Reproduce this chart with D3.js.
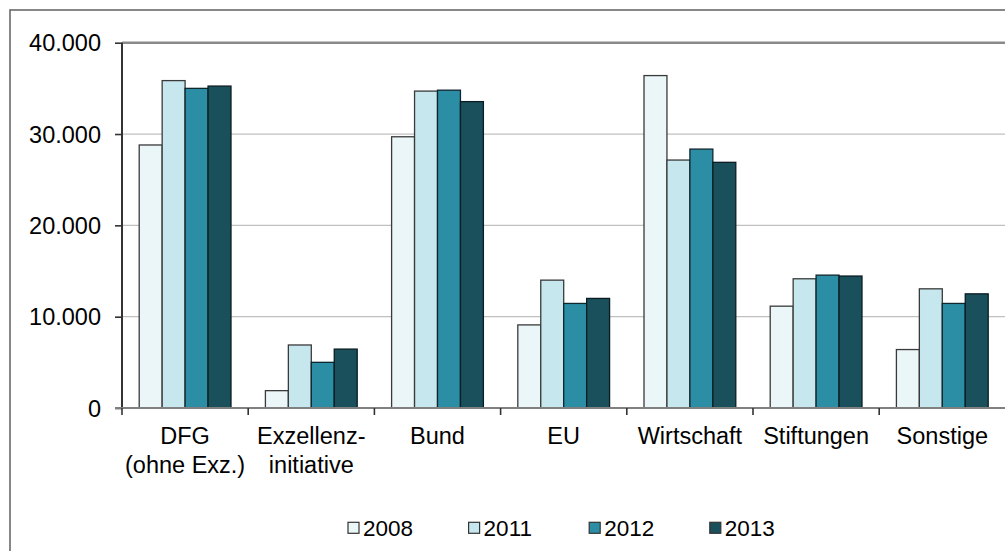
<!DOCTYPE html>
<html>
<head>
<meta charset="utf-8">
<script src="https://cdn.jsdelivr.net/npm/d3@7"></script>
<style>
  html, body { margin: 0; padding: 0; background: #fff; }
  svg { display: block; font-family: "Liberation Sans", Arial, sans-serif; }
</style>
</head>
<body>
<svg id="chart" width="1005" height="551"></svg>
<script>
// Drittmittel nach Geldgeber, Jahresvergleich
const categories = ["DFG\n(ohne Exz.)", "Exzellenz-\ninitiative", "Bund", "EU", "Wirtschaft", "Stiftungen", "Sonstige"];
const years = ["2008", "2011", "2012", "2013"];
const values2008 = [28800, 1900, 29700, 9100, 36400, 11150, 6400];
const values2011 = [35850, 6900, 34700, 14000, 27150, 14150, 13050];
const values2012 = [35000, 5000, 34800, 11450, 28350, 14550, 11450];
const values2013 = [35250, 6450, 33550, 12000, 26900, 14450, 12500];
const yTicks = [0, 10000, 20000, 30000, 40000];
const colors = ["#ebf6f8", "#c6e7ee", "#2b8ea5", "#1a4f5c"];
const strokes = ["#3a3a3a", "#3a3a3a", "#10262d", "#0b1d22"];

const series = [values2008, values2011, values2012, values2013];
const rows = categories.map((c, i) => ({ cat: c, vals: series.map(s => s[i]) }));

const svg = d3.select("#chart");
const plot = { left: 122, top: 42.7, bottom: 408, right: 122 + 7 * 126.2 };

const de = d3.formatLocale({ decimal: ",", thousands: ".", grouping: [3], currency: ["", " €"] });
const fmt = de.format(",.0f");

const x = d3.scaleBand().domain(categories).range([plot.left, plot.right]).paddingInner(0).paddingOuter(0);
const xs = d3.scaleBand().domain(years).range([0, x.bandwidth()]).paddingInner(0).paddingOuter(0.75);
const y = d3.scaleLinear().domain([0, 40000]).range([plot.bottom, plot.top]);

// outer chart frame
svg.append("rect")
  .attr("x", 10).attr("y", 10).attr("width", 1100).attr("height", 600)
  .attr("fill", "none").attr("stroke", "#6a6a6a").attr("stroke-width", 1.6);

// gridlines
svg.append("g").selectAll("line")
  .data(yTicks.filter(t => t > 0 && t < 40000))
  .join("line")
  .attr("x1", plot.left).attr("x2", 1005)
  .attr("y1", d => y(d)).attr("y2", d => y(d))
  .attr("stroke", "#c0c0c0").attr("stroke-width", 1.2);

// plot area top edge
svg.append("line")
  .attr("x1", plot.left).attr("x2", 1005)
  .attr("y1", y(40000)).attr("y2", y(40000))
  .attr("stroke", "#8a8a8a").attr("stroke-width", 2.4);

// bars
const groups = svg.append("g").selectAll("g")
  .data(rows).join("g")
  .attr("transform", d => `translate(${x(d.cat)},0)`);

groups.selectAll("rect")
  .data(d => d.vals.map((v, k) => ({ year: years[k], v, k })))
  .join("rect")
  .attr("x", d => xs(d.year))
  .attr("y", d => y(d.v))
  .attr("width", xs.bandwidth())
  .attr("height", d => y(0) - y(d.v))
  .attr("fill", d => colors[d.k])
  .attr("stroke", d => strokes[d.k])
  .attr("stroke-width", 1.3);

// y axis
const yAxis = d3.axisLeft(y).tickValues(yTicks).tickSize(7).tickPadding(14).tickFormat(fmt);
const gy = svg.append("g").attr("transform", `translate(${plot.left},0)`).call(yAxis);
gy.select(".domain").attr("stroke", "#333").attr("stroke-width", 2).attr("d", `M0,${plot.top}V${plot.bottom}`);
gy.selectAll(".tick line").attr("stroke", "#333").attr("stroke-width", 1.6);
gy.selectAll(".tick text")
  .attr("font-size", "23.5px").attr("fill", "#000")
  .attr("font-family", "'Liberation Sans', Arial, sans-serif")
  .attr("dy", "0.35em");

// x axis
const xAxis = d3.axisBottom(x).tickSize(0).tickFormat("");
const gx = svg.append("g").attr("transform", `translate(0,${plot.bottom})`).call(xAxis);
gx.select(".domain").attr("stroke", "#808080").attr("stroke-width", 2).attr("d", `M${plot.left - 7},0H1005`);
gx.selectAll(".tick").remove();

// category separators
svg.append("g").selectAll("line")
  .data(categories)
  .join("line")
  .attr("x1", d => x(d)).attr("x2", d => x(d))
  .attr("y1", plot.bottom).attr("y2", plot.bottom + 7)
  .attr("stroke", "#333").attr("stroke-width", 1.6);

// category labels
const labels = svg.append("g").selectAll("text")
  .data(categories).join("text")
  .attr("text-anchor", "middle")
  .attr("font-size", "23.5px")
  .attr("fill", "#000");
labels.each(function (d) {
  const t = d3.select(this);
  d.split("\n").forEach((line, i) => {
    t.append("tspan")
      .attr("x", x(d) + x.bandwidth() / 2)
      .attr("y", 444.3 + i * 28.4)
      .text(line);
  });
});

// legend
const legend = svg.append("g").selectAll("g")
  .data(years).join("g")
  .attr("transform", (d, i) => `translate(${348 + i * 120.6},0)`);
legend.append("rect")
  .attr("x", 0).attr("y", 522.3).attr("width", 11).attr("height", 11)
  .attr("fill", (d, i) => colors[i])
  .attr("stroke", "#333").attr("stroke-width", 1.2);
legend.append("text")
  .attr("x", 15).attr("y", 535.7)
  .attr("font-size", "22.5px")
  .attr("fill", "#000")
  .text(d => d);
</script>
</body>
</html>
